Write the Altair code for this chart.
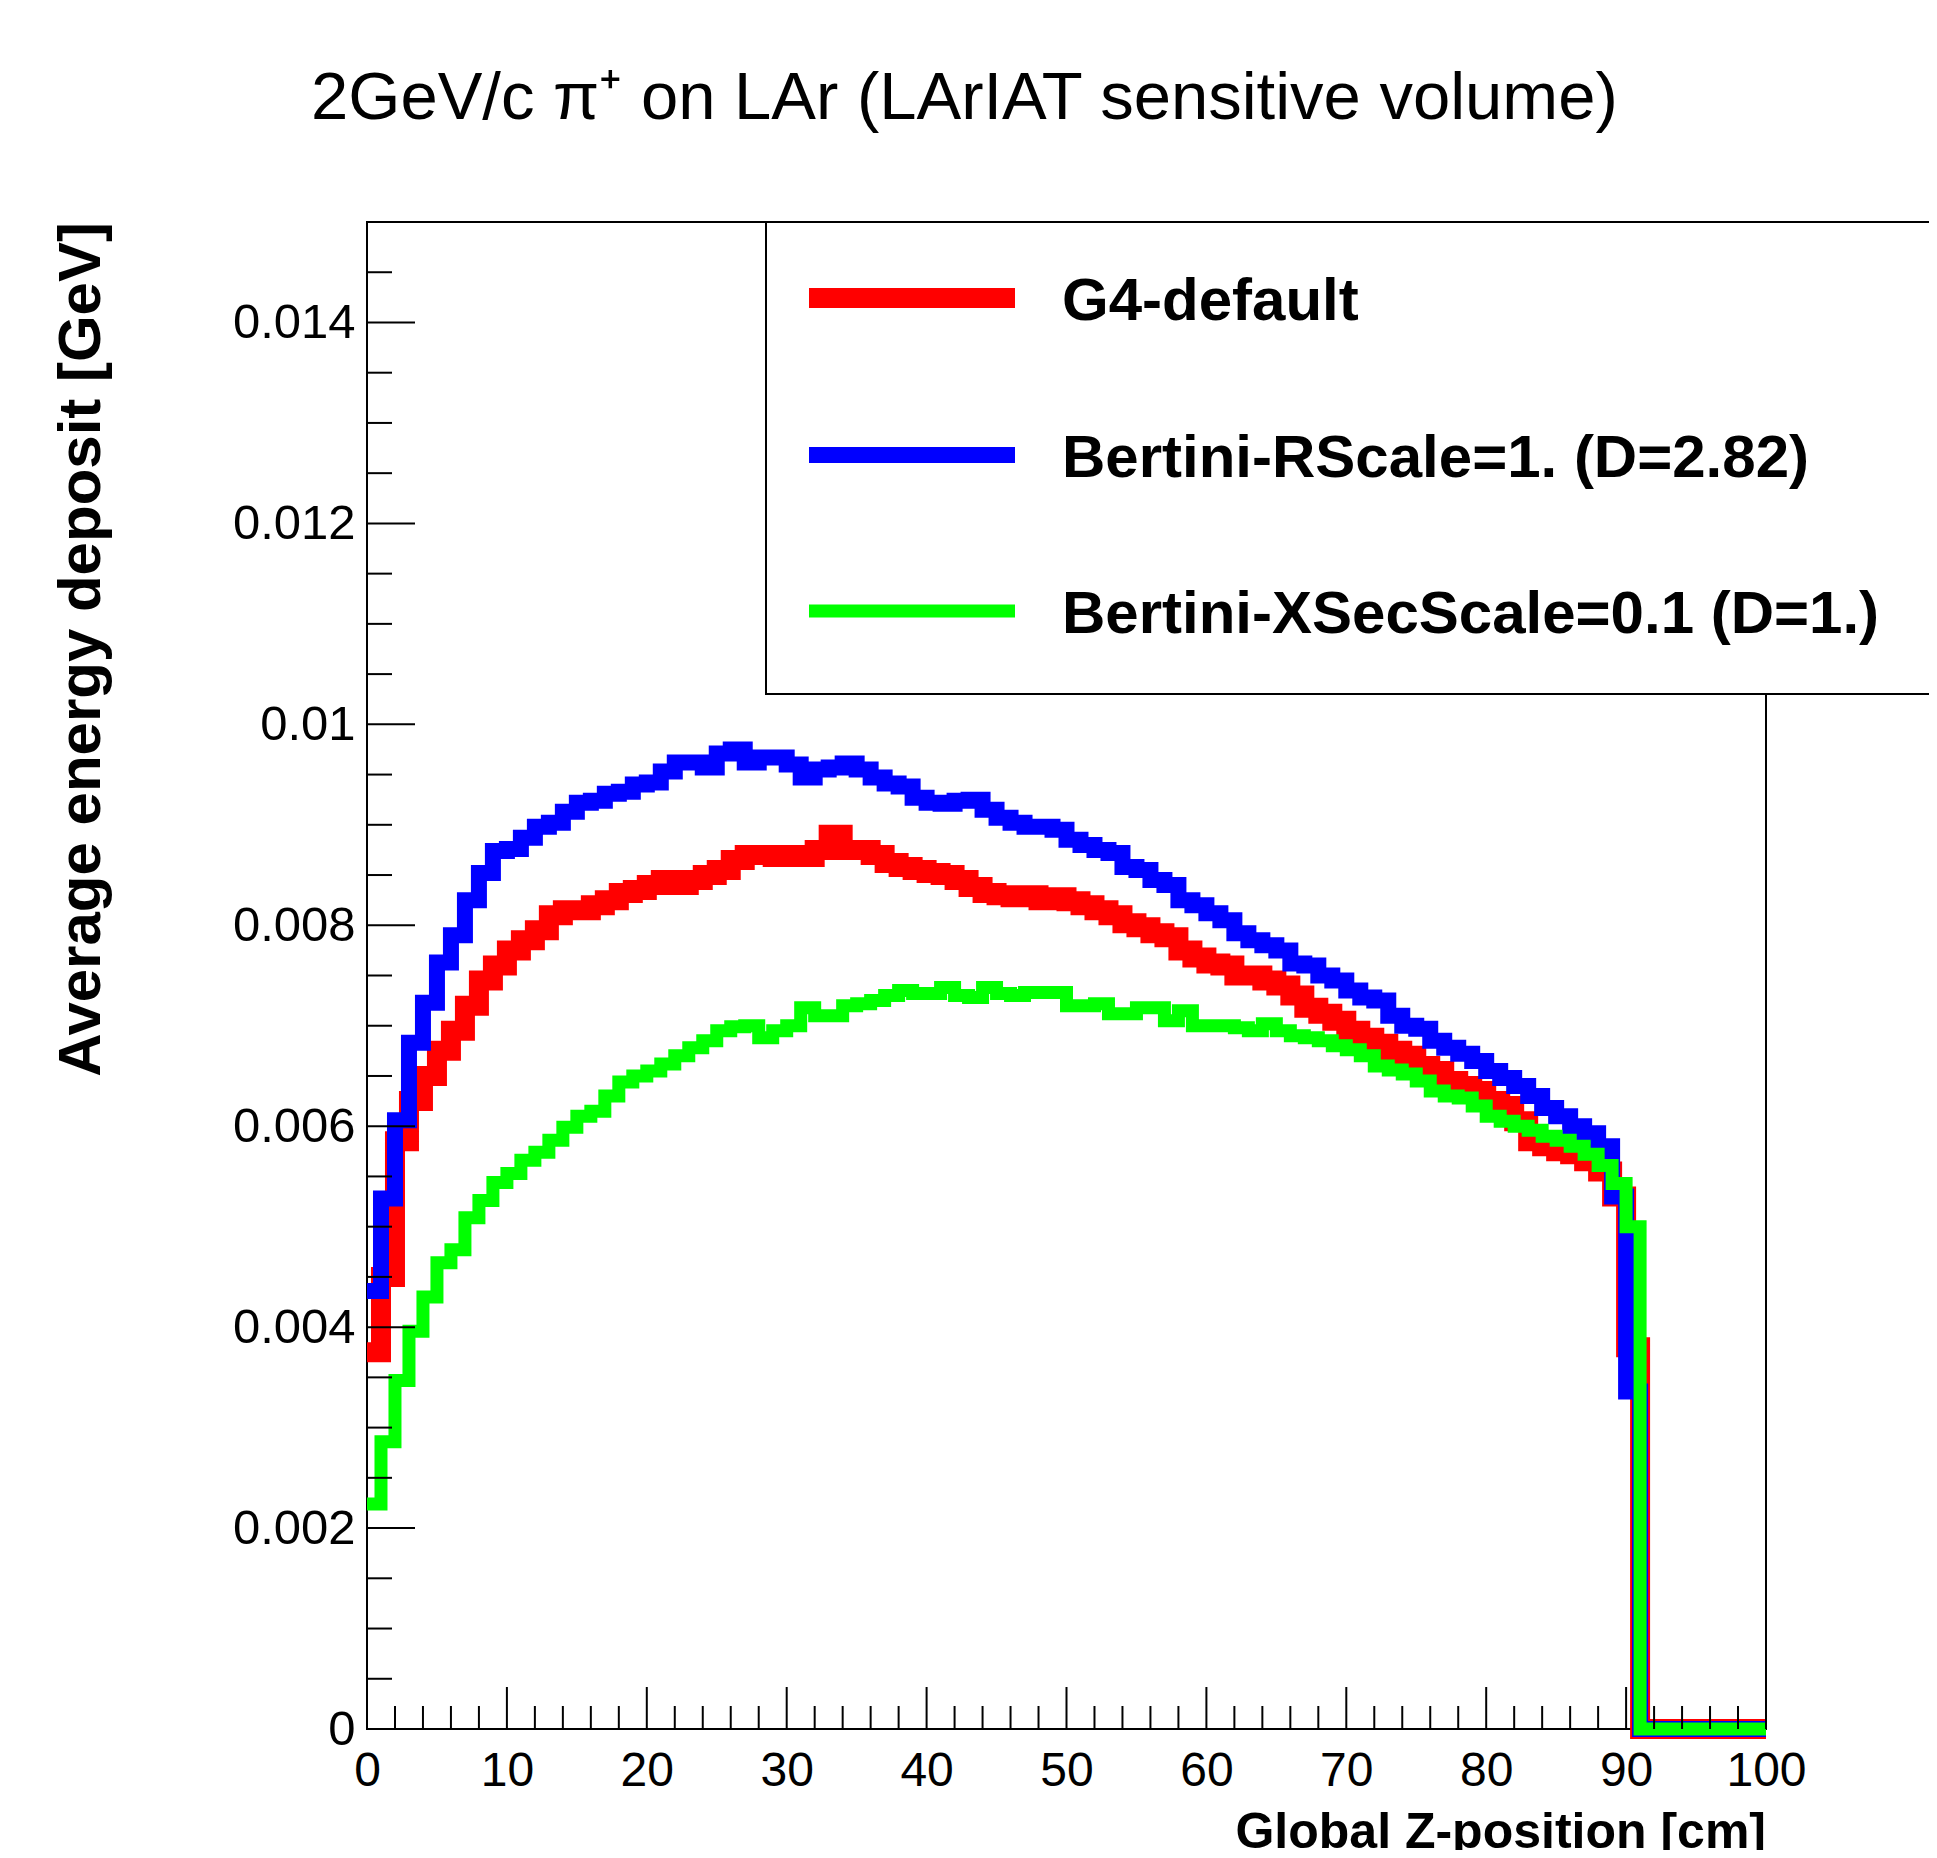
import altair as alt
import pandas as pd

# ---------------- data ----------------
bin_edges_cm = list(range(0, 101))  # 1 cm bins over 0..100 cm

series_names = ["G4-default", "Bertini-RScale=1. (D=2.82)", "Bertini-XSecScale=0.1 (D=1.)"]
series_colors = ["#ff0000", "#0000ff", "#00ff00"]

# average energy deposit per 1-cm bin, in MeV (bins 0-1 ... 90-91 cm)
g4_default_mev = [
    3.75, 4.50, 5.85, 6.25, 6.50, 6.75, 6.95, 7.20, 7.45, 7.60,
    7.75, 7.85, 7.95, 8.10, 8.15, 8.15, 8.20, 8.25, 8.32, 8.35,
    8.40, 8.45, 8.40, 8.45, 8.50, 8.55, 8.65, 8.70, 8.70, 8.68,
    8.70, 8.68, 8.75, 8.90, 8.75, 8.75, 8.70, 8.62, 8.58, 8.55,
    8.52, 8.50, 8.45, 8.38, 8.32, 8.30, 8.28, 8.30, 8.25, 8.28,
    8.24, 8.20, 8.15, 8.10, 8.02, 7.98, 7.92, 7.88, 7.75, 7.68,
    7.62, 7.60, 7.50, 7.50, 7.45, 7.40, 7.30, 7.18, 7.12, 7.05,
    6.95, 6.88, 6.82, 6.75, 6.70, 6.60, 6.55, 6.45, 6.40, 6.35,
    6.25, 6.20, 6.05, 5.85, 5.80, 5.75, 5.72, 5.65, 5.55, 5.30,
    3.80,
]
bertini_rscale_mev = [
    4.36, 5.28, 6.06, 6.83, 7.23, 7.63, 7.90, 8.25, 8.52, 8.74,
    8.76, 8.87, 8.98, 9.02, 9.13, 9.22, 9.24, 9.31, 9.33, 9.40,
    9.42, 9.53, 9.62, 9.62, 9.57, 9.71, 9.75, 9.62, 9.67, 9.67,
    9.60, 9.47, 9.55, 9.57, 9.61, 9.55, 9.47, 9.41, 9.38, 9.27,
    9.22, 9.21, 9.24, 9.25, 9.15, 9.07, 9.02, 8.98, 8.98, 8.95,
    8.85, 8.80, 8.75, 8.72, 8.58, 8.55, 8.45, 8.40, 8.25, 8.20,
    8.12, 8.05, 7.92, 7.85, 7.80, 7.75, 7.62, 7.60, 7.50, 7.45,
    7.35, 7.28, 7.25, 7.10, 7.00, 6.97, 6.85, 6.78, 6.72, 6.65,
    6.55, 6.48, 6.40, 6.30, 6.18, 6.10, 6.00, 5.93, 5.80, 5.30,
    3.36,
]
bertini_xsec_mev = [
    2.24, 2.86, 3.47, 3.96, 4.30, 4.64, 4.77, 5.09, 5.26, 5.44,
    5.53, 5.66, 5.74, 5.86, 5.99, 6.10, 6.15, 6.30, 6.44, 6.50,
    6.55, 6.62, 6.70, 6.78, 6.85, 6.95, 6.99, 7.00, 6.88, 6.95,
    7.00, 7.18, 7.10, 7.10, 7.20, 7.22, 7.25, 7.30, 7.35, 7.32,
    7.32, 7.38, 7.30, 7.28, 7.38, 7.32, 7.30, 7.33, 7.33, 7.33,
    7.20, 7.20, 7.22, 7.12, 7.12, 7.18, 7.18, 7.05, 7.15, 7.00,
    7.00, 7.00, 6.98, 6.95, 7.02, 6.95, 6.90, 6.88, 6.85, 6.80,
    6.76, 6.70, 6.60, 6.56, 6.52, 6.45, 6.35, 6.30, 6.28, 6.20,
    6.10, 6.05, 6.00, 5.96, 5.90, 5.86, 5.80, 5.72, 5.61, 5.43,
    5.00,
]
empty_bins_mev = [0.0] * 9  # bins 91-92 ... 99-100 cm

series_values = [g4_default_mev, bertini_rscale_mev, bertini_xsec_mev]

x_major_ticks = [0, 10, 20, 30, 40, 50, 60, 70, 80, 90, 100]
x_minor_ticks = [k for k in range(0, 101, 2) if k % 10]
y_major_ticks = [0, 0.002, 0.004, 0.006, 0.008, 0.010, 0.012, 0.014]
y_minor_ticks = [round(k * 0.0005, 4) for k in range(31) if k % 4]

chart_title = "2GeV/c π⁺ on LAr (LArIAT sensitive volume)"
x_title = "Global Z-position [cm]"
y_title = "Average energy deposit [GeV]"

# ---------------- style ----------------
W, H = 1399, 1507
FONT = "Liberation Sans, Arial, Helvetica, sans-serif"
line_widths = [20, 16, 13]
legend_line_y = [76, 233, 389]

xscale = alt.Scale(domain=[0, 100], nice=False, zero=False)
yscale = alt.Scale(domain=[0, 0.015], nice=False, zero=True)

x_axis = alt.Axis(
    values=x_major_ticks, format="d", domain=False, ticks=False, grid=False,
    labelFont=FONT, labelFontSize=48, labelPadding=18, labelFlush=False,
    labelOverlap=False, labelColor="black", labelBound=False, title=None,
)
y_axis = alt.Axis(
    values=y_major_ticks, format="~g", domain=False, ticks=False, grid=False,
    labelFont=FONT, labelFontSize=49, labelPadding=12, labelFlush=False,
    labelOverlap=False, labelColor="black", labelBound=False, title=None,
)


def hist_frame(vals):
    full = vals + empty_bins_mev
    ys = [v / 1000.0 for v in full] + [full[-1] / 1000.0]
    return pd.DataFrame({"z": bin_edges_cm, "e": ys})


layers = []
for i, (name, color, vals) in enumerate(zip(series_names, series_colors, series_values)):
    layers.append(
        alt.Chart(hist_frame(vals)).mark_line(
            interpolate="step-after", color=color, strokeWidth=line_widths[i],
            strokeJoin="miter", strokeCap="butt",
        ).encode(
            x=alt.X("z:Q", scale=xscale, axis=x_axis),
            y=alt.Y("e:Q", scale=yscale, axis=y_axis),
        )
    )

# inward ticks (drawn above the histograms, like ROOT)
tick_style = dict(color="black", strokeWidth=2)
layers.append(
    alt.Chart(pd.DataFrame({"t": y_major_ticks})).mark_rule(**tick_style).encode(
        y=alt.Y("t:Q", scale=yscale, axis=y_axis), x=alt.value(0), x2=alt.value(48))
)
layers.append(
    alt.Chart(pd.DataFrame({"t": y_minor_ticks})).mark_rule(**tick_style).encode(
        y=alt.Y("t:Q", scale=yscale, axis=y_axis), x=alt.value(0), x2=alt.value(25))
)
layers.append(
    alt.Chart(pd.DataFrame({"t": x_major_ticks})).mark_rule(**tick_style).encode(
        x=alt.X("t:Q", scale=xscale, axis=x_axis), y=alt.value(H), y2=alt.value(H - 42))
)
layers.append(
    alt.Chart(pd.DataFrame({"t": x_minor_ticks})).mark_rule(**tick_style).encode(
        x=alt.X("t:Q", scale=xscale, axis=x_axis), y=alt.value(H), y2=alt.value(H - 23))
)

# legend box
layers.append(
    alt.Chart(pd.DataFrame({"a": [0]})).mark_rect(
        fill="white", stroke="black", strokeWidth=2
    ).encode(x=alt.value(399), x2=alt.value(1700), y=alt.value(0), y2=alt.value(472))
)
for i, (name, color) in enumerate(zip(series_names, series_colors)):
    ly = legend_line_y[i]
    layers.append(
        alt.Chart(pd.DataFrame({"label": [name]})).mark_rule(
            color=color, strokeWidth=line_widths[i], strokeCap="butt"
        ).encode(x=alt.value(442), x2=alt.value(648), y=alt.value(ly))
    )
    layers.append(
        alt.Chart(pd.DataFrame({"label": [name]})).mark_text(
            align="left", baseline="alphabetic", font=FONT, fontSize=60,
            fontWeight="bold", color="black",
        ).encode(x=alt.value(695), y=alt.value(ly + 22), text="label:N")
    )

# titles
layers.append(
    alt.Chart(pd.DataFrame({"label": [chart_title]})).mark_text(
        align="left", baseline="alphabetic", font=FONT, fontSize=67, color="black",
    ).encode(x=alt.value(-56), y=alt.value(-103), text="label:N")
)
layers.append(
    alt.Chart(pd.DataFrame({"label": [x_title]})).mark_text(
        align="right", baseline="alphabetic", font=FONT, fontSize=50,
        fontWeight="bold", color="black",
    ).encode(x=alt.value(W), y=alt.value(H + 119), text="label:N")
)
layers.append(
    alt.Chart(pd.DataFrame({"label": [y_title]})).mark_text(
        align="right", baseline="middle", font=FONT, fontSize=60, angle=270,
        fontWeight="bold", color="black",
    ).encode(x=alt.value(-285), y=alt.value(0), text="label:N")
)

chart = alt.layer(*layers).properties(
    width=W,
    height=H,
    autosize=alt.AutoSizeParams(type="none"),
    padding={"left": 359, "top": 214, "right": 163, "bottom": 121},
    background="white",
).configure_view(stroke="black", strokeWidth=2)

chart.save("out.html", embed_options={"renderer": "svg", "actions": False})
